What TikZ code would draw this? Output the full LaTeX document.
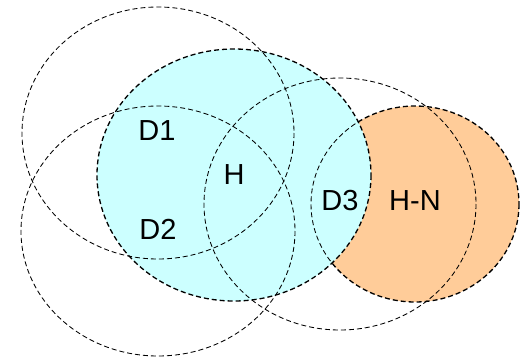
\documentclass[tikz,border=0pt]{standalone}
\usepackage{fontspec}
\setmainfont{Liberation Sans}
\definecolor{hcyan}{HTML}{CCFFFF}
\definecolor{horange}{HTML}{FFCC99}
\begin{document}
\begin{tikzpicture}[x=1pt,y=-1pt,
  heavy/.style={draw=black,line width=1.3pt,dash pattern=on 5pt off 3pt},
  thin/.style={draw=black,line width=0.85pt,dash pattern=on 5pt off 3pt},
  lbl/.style={font=\fontsize{29}{34}\selectfont,inner sep=0pt}]
\useasboundingbox (0,0) rectangle (520,359);
% H-N region (orange)
\path[fill=horange,heavy] (415,204) ellipse [x radius=104, y radius=98];
% H region (cyan)
\path[fill=hcyan,heavy] (234,175) ellipse [x radius=137, y radius=126];
% orange outline seen through cyan
\begin{scope}
  \clip (234,175) ellipse [x radius=137, y radius=126];
  \path[thin] (415,204) ellipse [x radius=104, y radius=98];
\end{scope}
% detector ranges
\path[thin] (158,133) ellipse [x radius=136, y radius=126];
\path[thin] (158,231) ellipse [x radius=137, y radius=125];
\path[thin] (340,204) ellipse [x radius=136, y radius=126];
% labels
\node[lbl] (d1) at (157,131) {D1};
\node[lbl] (h) at (234,175) {H};
\node[lbl] (d2) at (158,229) {D2};
\node[lbl] (d3) at (340,201) {D3};
\node[lbl] (hn) at (415,201) {H-N};
\end{tikzpicture}
\end{document}
